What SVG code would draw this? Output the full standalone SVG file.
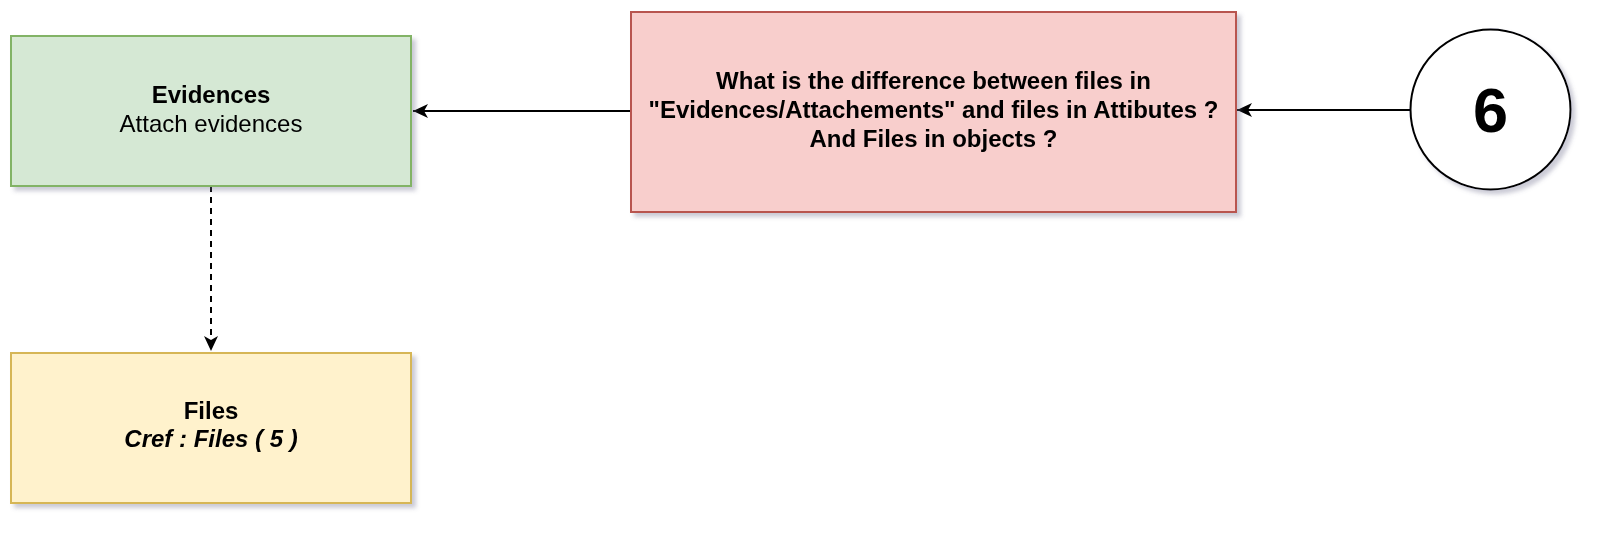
<svg xmlns="http://www.w3.org/2000/svg" width="1604" height="536" viewBox="0 0 1604 536">
<style>
text{font-family:"Liberation Sans",Arial,sans-serif;fill:#000;text-anchor:middle}
.b{font-weight:bold}
.t{font-size:24px}
.edge{fill:none;stroke:#000;stroke-width:2}
</style>
<defs>
<filter id="sh" x="-10%" y="-10%" width="130%" height="130%">
<feGaussianBlur in="SourceAlpha" stdDeviation="2"/>
<feOffset dx="4" dy="4" result="o"/>
<feFlood flood-color="#6b6b8a" flood-opacity="0.35"/>
<feComposite in2="o" operator="in"/>
<feMerge><feMergeNode/><feMergeNode in="SourceGraphic"/></feMerge>
</filter>
<marker id="ah2" viewBox="0 0 16 16" refX="15" refY="8" markerWidth="16" markerHeight="16" markerUnits="userSpaceOnUse" orient="auto">
<path d="M0,1 L15,8 L0,15 L4,8 Z" fill="#000"/>
</marker>
</defs>
<g id="connectors">
<path class="edge" d="M631,111 L413,111" marker-end="url(#ah2)"/>
<path class="edge" d="M1410,110 L1237,110" marker-end="url(#ah2)"/>
<path class="edge" d="M211,186 L211,351" stroke-dasharray="6,5" marker-end="url(#ah2)"/>
</g>
<g id="evidences" filter="url(#sh)">
<rect x="11" y="36" width="400" height="150" fill="#d5e8d4" stroke="#82b366" stroke-width="2"/>
<text x="211" y="103" class="b t">Evidences</text>
<text x="211" y="132" class="t">Attach evidences</text>
</g>
<g id="files" filter="url(#sh)">
<rect x="11" y="353" width="400" height="150" fill="#fff2cc" stroke="#d6b656" stroke-width="2"/>
<text x="211" y="419" class="b t">Files</text>
<text x="211" y="447" class="b t" font-style="italic">Cref : Files ( 5 )</text>
</g>
<g id="question" filter="url(#sh)">
<rect x="631" y="12" width="605" height="200" fill="#f8cecc" stroke="#b85450" stroke-width="2"/>
<text x="933.5" y="89" class="b t">What is the difference between files in</text>
<text x="933.5" y="118" class="b t">"Evidences/Attachements" and files in Attibutes ?</text>
<text x="933.5" y="147" class="b t">And Files in objects ?</text>
</g>
<g id="step6" filter="url(#sh)">
<circle cx="1490.5" cy="109.5" r="80" fill="#fff" stroke="#000" stroke-width="2"/>
<text x="1490.5" y="132" class="b" font-size="63">6</text>
</g>
</svg>
